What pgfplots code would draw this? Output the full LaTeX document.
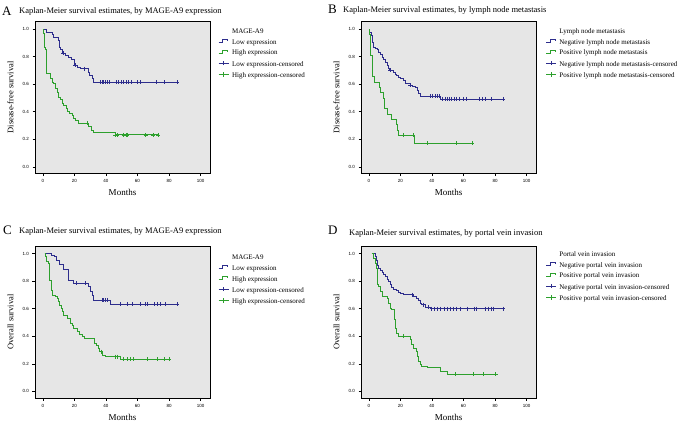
\documentclass[border=0pt]{standalone}
\usepackage{pgfplots}
\pgfplotsset{compat=1.18}
\usepackage{fontspec}
\setmainfont{Liberation Serif}
\setsansfont{Liberation Sans}
\definecolor{kmblue}{RGB}{45,45,140}
\definecolor{kmgreen}{RGB}{45,160,45}
\definecolor{kmbg}{RGB}{230,230,230}
\pgfplotsset{
 kmaxis/.style={
   scale only axis, width=175pt, height=152pt,
   xmin=-5, xmax=106, ymin=-0.048, ymax=1.055,
   axis background/.style={fill=kmbg},
   axis line style={line width=0.9pt},
   xtick={0,20,40,60,80,100}, ytick={0,0.2,0.4,0.6,0.8,1.0},
   tick align=outside, xtick pos=bottom, ytick pos=left,
   major tick length=2.5pt,
   tick style={black, line width=0.6pt},
   tick label style={font=\sffamily\fontsize{4.5}{5}\selectfont},
   /pgf/number format/assume math mode=true,
   yticklabel style={/pgf/number format/.cd, fixed, fixed zerofill, precision=1},
   xlabel={Months},
   xlabel style={at={(axis description cs:0.5,-0.125)}, anchor=center, font=\fontsize{9}{10}\selectfont},
   ylabel style={at={(axis description cs:-0.14,0.5)}, anchor=center, font=\fontsize{8.5}{10}\selectfont},
   legend style={anchor=north west, draw=none, fill=none,
     font=\fontsize{7}{8}\selectfont, row sep=3.9pt, column sep=3pt, inner sep=0pt,
     nodes={inner sep=0pt, text height=5pt, text depth=1.5pt}},
   legend cell align=left,
 },
 kmline/.style={const plot, line width=0.6pt, forget plot},
 kmcens/.style={only marks, mark=+, mark size=2pt, forget plot, mark options={line width=0.5pt}},
 stepleg/.style={#1, line width=0.6pt, legend image code/.code={\draw (0pt,0.2pt)--(4pt,0.2pt)--(4pt,3.2pt)--(9pt,3.2pt)--(9pt,1.5pt);}},
 censleg/.style={#1, line width=0.6pt, legend image code/.code={\draw (0pt,1.75pt)--(10pt,1.75pt); \draw (5pt,-0.5pt)--(5pt,4pt);}},
}
\begin{document}
\begin{tikzpicture}
\path[use as bounding box] (0,0) rectangle (685pt,-421pt);
% Titles
\node[anchor=base west, font=\fontsize{13}{14}\selectfont, inner sep=0] at (2pt,-15.5pt) {A};
\node[anchor=base west, font=\fontsize{8.5}{10}\selectfont, inner sep=0] at (19pt,-13.5pt) {Kaplan-Meier survival estimates, by MAGE-A9 expression};
\node[anchor=base west, font=\fontsize{13}{14}\selectfont, inner sep=0] at (328pt,-13pt) {B};
\node[anchor=base west, font=\fontsize{8.5}{10}\selectfont, inner sep=0] at (343pt,-12.5pt) {Kaplan-Meier survival estimates, by lymph node metastasis};
\node[anchor=base west, font=\fontsize{13}{14}\selectfont, inner sep=0] at (3pt,-234pt) {C};
\node[anchor=base west, font=\fontsize{8.5}{10}\selectfont, inner sep=0] at (19pt,-233.3pt) {Kaplan-Meier survival estimates, by MAGE-A9 expression};
\node[anchor=base west, font=\fontsize{13}{14}\selectfont, inner sep=0] at (328pt,-234pt) {D};
\node[anchor=base west, font=\fontsize{8.5}{10}\selectfont, inner sep=0] at (349pt,-235pt) {Kaplan-Meier survival estimates, by portal vein invasion};

% Panel A
\begin{axis}[kmaxis, at={(35pt,-21.5pt)}, anchor=north west, ylabel={Disease-free survival},
  legend style={at={(axis description cs:1.047,0.954)}}]
\addlegendimage{empty legend}\addlegendentry{MAGE-A9}
\addlegendimage{stepleg=kmblue}\addlegendentry{Low expression}
\addlegendimage{stepleg=kmgreen}\addlegendentry{High expression}
\addlegendimage{censleg=kmblue}\addlegendentry{Low expression-censored}
\addlegendimage{censleg=kmgreen}\addlegendentry{High expression-censored}
\addplot[kmline, kmblue] coordinates {(0,1)(1.9,0.98)(5.7,0.96)(6.8,0.94)(9.5,0.92)(10.4,0.87)(11.2,0.85)(12.3,0.826)(14.2,0.809)(15.9,0.797)(17.8,0.778)(20,0.737)(21.6,0.725)(24,0.713)(28.6,0.688)(29.4,0.664)(31.1,0.64)(32.1,0.615)(85.2,0.615)};
\addplot[kmcens, kmblue] coordinates {(12.9,0.826)(20.5,0.737)(26.4,0.713)(36.4,0.615)(37.4,0.615)(38.5,0.615)(39.5,0.615)(40.6,0.615)(42.1,0.615)(46.3,0.615)(48,0.615)(49.7,0.615)(51.2,0.615)(52.7,0.615)(54.3,0.615)(56,0.615)(59.8,0.615)(61.5,0.615)(72,0.615)(76.7,0.615)(85.2,0.615)};
\addplot[kmline, kmgreen] coordinates {(0,1.0)(0.3,0.97)(0.6,0.93)(0.9,0.87)(1.3,0.85)(1.9,0.676)(4.7,0.64)(5.7,0.616)(6.8,0.604)(7.8,0.568)(8.9,0.543)(9.95,0.502)(11,0.488)(12.1,0.464)(13.1,0.447)(14.6,0.423)(15.7,0.406)(16.7,0.387)(18.4,0.374)(19.5,0.35)(20.5,0.338)(22.6,0.319)(29,0.295)(30.5,0.266)(31.7,0.254)(45.9,0.233)(73.2,0.233)};
\addplot[kmcens, kmgreen] coordinates {(27.9,0.319)(45.9,0.233)(46.9,0.233)(51.2,0.233)(52.7,0.233)(53.5,0.233)(65.1,0.233)(69.8,0.233)(73.2,0.233)};
\end{axis}

% Panel B
\begin{axis}[kmaxis, at={(361pt,-21.5pt)}, anchor=north west, ylabel={Disease-free survival},
  legend style={at={(axis description cs:1.055,0.954)}}]
\addlegendimage{empty legend}\addlegendentry{Lymph node metastasis}
\addlegendimage{stepleg=kmblue}\addlegendentry{Negative lymph node metastasis}
\addlegendimage{stepleg=kmgreen}\addlegendentry{Positive lymph node metastasis}
\addlegendimage{censleg=kmblue}\addlegendentry{Negative lymph node metastasis-censored}
\addlegendimage{censleg=kmgreen}\addlegendentry{Positive lymph node metastasis-censored}
\addplot[kmline, kmblue] coordinates {(0,1.0)(0.44,0.976)(1.29,0.954)(1.9,0.906)(2.54,0.87)(4,0.858)(5.07,0.851)(6.1,0.834)(7.2,0.817)(8.2,0.798)(9.3,0.778)(10.3,0.761)(11.4,0.737)(12.5,0.713)(13.1,0.701)(15.2,0.689)(16.6,0.672)(17.7,0.665)(18.7,0.653)(20.2,0.641)(21.9,0.629)(23,0.605)(26.1,0.593)(27.8,0.586)(29.3,0.576)(30.5,0.557)(31.4,0.533)(32.9,0.513)(45.5,0.494)(85.3,0.494)};
\addplot[kmcens, kmblue] coordinates {(13.5,0.701)(26.1,0.593)(38.7,0.513)(40.2,0.513)(41.8,0.513)(43.3,0.513)(44.6,0.513)(46.7,0.494)(48.2,0.494)(49.7,0.494)(50.9,0.494)(52.4,0.494)(53.9,0.494)(55.6,0.494)(57.3,0.494)(59.8,0.494)(61.5,0.494)(69.9,0.494)(72,0.494)(73.5,0.494)(77.3,0.494)(85.3,0.494)};
\addplot[kmline, kmgreen] coordinates {(0,1.0)(0.4,0.962)(0.86,0.885)(1.2,0.808)(1.9,0.654)(3.4,0.615)(6.8,0.577)(7.5,0.538)(9.3,0.5)(9.9,0.423)(11.4,0.385)(14.5,0.346)(17.3,0.308)(18.1,0.269)(18.7,0.231)(28.8,0.173)(65.3,0.173)};
\addplot[kmcens, kmgreen] coordinates {(21.5,0.231)(28.2,0.231)(37.1,0.173)(55.2,0.173)(65.3,0.173)};
\end{axis}

% Panel C
\begin{axis}[kmaxis, at={(35pt,-246pt)}, anchor=north west, ylabel={Overall survival},
  legend style={at={(axis description cs:1.047,0.944)}}]
\addlegendimage{empty legend}\addlegendentry{MAGE-A9}
\addlegendimage{stepleg=kmblue}\addlegendentry{Low expression}
\addlegendimage{stepleg=kmgreen}\addlegendentry{High expression}
\addlegendimage{censleg=kmblue}\addlegendentry{Low expression-censored}
\addlegendimage{censleg=kmgreen}\addlegendentry{High expression-censored}
\addplot[kmline, kmblue] coordinates {(1.1,1.0)(5.3,0.99)(7.4,0.978)(8.3,0.954)(10.4,0.922)(13.1,0.888)(15.9,0.804)(19.1,0.785)(29,0.760)(30,0.724)(31.1,0.70)(31.7,0.663)(42.7,0.632)(85.2,0.632)};
\addplot[kmcens, kmblue] coordinates {(21,0.785)(26.9,0.785)(37.4,0.663)(38.5,0.663)(39.5,0.663)(40.6,0.663)(49,0.632)(53.3,0.632)(56.9,0.632)(61.7,0.632)(64.9,0.632)(66.2,0.632)(70.4,0.632)(72.5,0.632)(74.2,0.632)(77.4,0.632)(85.2,0.632)};
\addplot[kmline, kmgreen] coordinates {(1.1,1.0)(1.5,0.98)(1.9,0.942)(3.6,0.93)(4.3,0.808)(5.3,0.736)(6.1,0.70)(7.8,0.688)(8.9,0.675)(9.5,0.651)(10.6,0.627)(11.6,0.603)(12.5,0.579)(13.1,0.554)(15.2,0.530)(17.4,0.494)(18.4,0.477)(19.5,0.457)(21.6,0.438)(23.1,0.414)(24.8,0.397)(26.4,0.385)(32.8,0.349)(33.6,0.332)(34.9,0.312)(35.7,0.288)(37.9,0.264)(39.5,0.252)(49.1,0.232)(79.9,0.232)};
\addplot[kmcens, kmgreen] coordinates {(37,0.288)(45.9,0.252)(47,0.252)(51.2,0.232)(53.3,0.232)(55.4,0.232)(57.5,0.232)(66.2,0.232)(72.5,0.232)(76.7,0.232)(79.9,0.232)};
\end{axis}

% Panel D
\begin{axis}[kmaxis, at={(361pt,-246pt)}, anchor=north west, ylabel={Overall survival},
  legend style={at={(axis description cs:1.055,0.964)}}]
\addlegendimage{empty legend}\addlegendentry{Portal vein invasion}
\addlegendimage{stepleg=kmblue}\addlegendentry{Negative portal vein invasion}
\addlegendimage{stepleg=kmgreen}\addlegendentry{Positive portal vein invasion}
\addlegendimage{censleg=kmblue}\addlegendentry{Negative portal vein invasion-censored}
\addlegendimage{censleg=kmgreen}\addlegendentry{Positive portal vein invasion-censored}
\addplot[kmline, kmblue] coordinates {(1.9,1.0)(4,0.98)(4.6,0.954)(5.1,0.918)(6.1,0.894)(7.2,0.882)(8.2,0.865)(9.3,0.851)(10.3,0.834)(11.4,0.81)(12.4,0.798)(13.5,0.774)(14.5,0.755)(15.6,0.738)(17.3,0.731)(18.8,0.721)(19.8,0.714)(21.9,0.702)(28.2,0.69)(30.3,0.678)(31.4,0.659)(32.4,0.642)(33.5,0.63)(35.6,0.61)(38.7,0.60)(85.3,0.60)};
\addplot[kmcens, kmblue] coordinates {(27.2,0.702)(34.5,0.63)(37.7,0.61)(39.8,0.60)(41.5,0.60)(43.6,0.60)(45.5,0.60)(47.5,0.60)(49.5,0.60)(51.5,0.60)(53.5,0.60)(55.6,0.60)(57.7,0.60)(62.3,0.60)(66.7,0.60)(68.2,0.60)(73.5,0.60)(75.6,0.60)(77.3,0.60)(78.7,0.60)(85.3,0.60)};
\addplot[kmline, kmgreen] coordinates {(1.9,1.0)(2.5,0.966)(4,0.93)(4.6,0.894)(5.1,0.774)(6.1,0.762)(7.2,0.726)(8.2,0.69)(11.4,0.678)(12.4,0.642)(13.5,0.606)(14.5,0.594)(16,0.521)(16.6,0.461)(17.7,0.425)(18.7,0.401)(26.1,0.377)(27.2,0.34)(28.2,0.316)(29.9,0.292)(30.7,0.256)(31.4,0.22)(32.4,0.196)(33.5,0.184)(37,0.172)(45,0.148)(50,0.124)(80.4,0.124)};
\addplot[kmcens, kmgreen] coordinates {(21.5,0.401)(54.5,0.124)(66.3,0.124)(72.4,0.124)(80.4,0.124)};
\end{axis}
\end{tikzpicture}
\end{document}
